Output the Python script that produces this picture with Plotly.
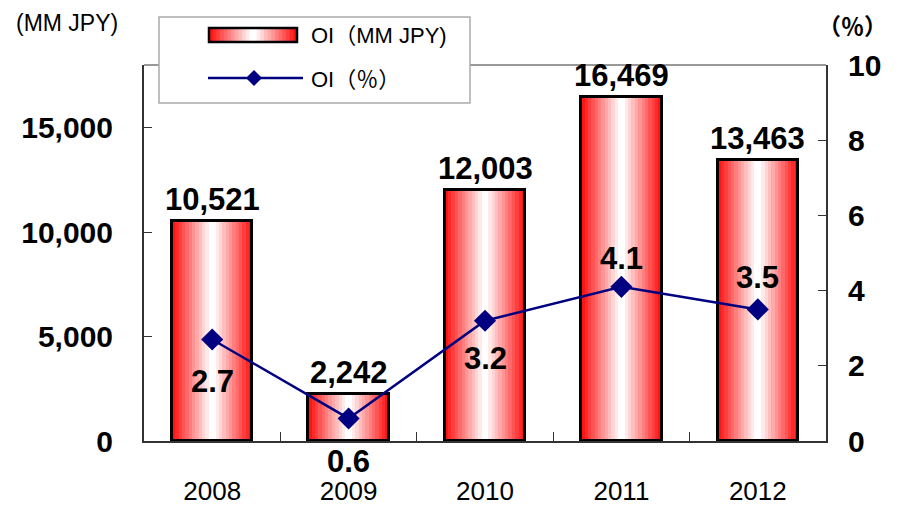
import plotly.graph_objects as go

years = ["2008", "2009", "2010", "2011", "2012"]
oi_mm_jpy = [10521, 2242, 12003, 16469, 13463]
oi_pct = [2.7, 0.6, 3.2, 4.1, 3.5]
pct_label_shift = [-42, -43, -38, 28, 32]  # label offset (px) from the point

W, H = 899, 508
L, R, T, B = 144, 826, 65, 441  # plot area in pixels
PW, PH = R - L, B - T

def px(x):
    return (x - L) / PW

def py(y):
    return (B - y) / PH

N = 12
BAR_W = 0.59
def grad_color(t):
    g0 = 20
    g = int(g0 + (255 - g0) * t)
    return f"rgb(255,{g},{g})"

fig = go.Figure()
for k in range(N):
    t = k / (N - 1)
    fig.add_trace(go.Bar(
        x=years, y=oi_mm_jpy, width=BAR_W * (1 - k / N),
        marker=dict(color=grad_color(t), line=dict(width=0)),
        showlegend=False, hoverinfo="skip"))
fig.add_trace(go.Bar(
    x=years, y=oi_mm_jpy, width=BAR_W,
    marker=dict(color="rgba(0,0,0,0)", line=dict(color="black", width=3)),
    showlegend=False, name="OI（MM JPY)"))

fig.add_trace(go.Scatter(
    x=years, y=oi_pct, yaxis="y2", mode="lines+markers",
    line=dict(color="#000080", width=2.5),
    marker=dict(symbol="diamond", size=17, color="#000080"),
    cliponaxis=False, showlegend=False, name="OI（％）"))

shapes = []
shapes.append(dict(type="line", xref="paper", yref="paper", x0=0, x1=1, y0=1, y1=1,
                   line=dict(color="#999999", width=2), layer="below"))
shapes.append(dict(type="rect", xref="paper", yref="paper",
                   x0=px(159), x1=px(470), y0=py(103), y1=py(17),
                   fillcolor="white", line=dict(color="#aaaaaa", width=1.5), layer="above"))
lx0, lx1, ly0, ly1 = 209, 297, 28, 42
for k in range(N):
    t = k / (N - 1)
    half = (lx1 - lx0) / 2 * (1 - k / N)
    cx = (lx0 + lx1) / 2
    shapes.append(dict(type="rect", xref="paper", yref="paper",
                       x0=px(cx - half), x1=px(cx + half), y0=py(ly1), y1=py(ly0),
                       fillcolor=grad_color(t), line=dict(width=0), layer="above"))
shapes.append(dict(type="rect", xref="paper", yref="paper",
                   x0=px(lx0), x1=px(lx1), y0=py(ly1), y1=py(ly0),
                   fillcolor="rgba(0,0,0,0)", line=dict(color="black", width=2.5), layer="above"))
shapes.append(dict(type="line", xref="paper", yref="paper",
                   x0=px(208), x1=px(303), y0=py(78), y1=py(78),
                   line=dict(color="#000080", width=2.5), layer="above"))
dcx, dcy, dr = 254, 78, 8
shapes.append(dict(type="path", xref="paper", yref="paper",
                   path=f"M{px(dcx)},{py(dcy-dr)} L{px(dcx+dr)},{py(dcy)} L{px(dcx)},{py(dcy+dr)} L{px(dcx-dr)},{py(dcy)} Z",
                   fillcolor="#000080", line=dict(width=0), layer="above"))

cjk = "Liberation Sans, Noto Sans CJK JP"
lab_font = dict(family="Liberation Sans", size=31, color="black", weight="bold")
annotations = [
    dict(text="OI（MM JPY)", xref="paper", yref="paper", x=px(309), y=py(36),
         xanchor="left", yanchor="middle", showarrow=False,
         font=dict(family=cjk, size=22, color="black")),
    dict(text="OI（％）", xref="paper", yref="paper", x=px(309), y=py(79),
         xanchor="left", yanchor="middle", showarrow=False,
         font=dict(family=cjk, size=22, color="black")),
    dict(text="(MM JPY)", xref="paper", yref="paper", x=px(67), y=py(23),
         xanchor="center", yanchor="middle", showarrow=False,
         font=dict(family=cjk, size=23, color="black")),
    dict(text="（％）", xref="paper", yref="paper", x=px(852), y=py(27),
         xanchor="center", yanchor="middle", showarrow=False,
         font=dict(family=cjk, size=23, color="black", weight="bold")),
]
for i, v in enumerate(oi_mm_jpy):
    annotations.append(dict(text=f"{v:,}", x=i, y=v, xref="x", yref="y",
                            yshift=2, showarrow=False, xanchor="center", yanchor="bottom",
                            font=lab_font))
for i, (v, s) in enumerate(zip(oi_pct, pct_label_shift)):
    annotations.append(dict(text=f"{v:.1f}", x=i, y=v, xref="x", yref="y2",
                            yshift=s, showarrow=False, xanchor="center", yanchor="middle",
                            font=lab_font))

fig.update_layout(
    width=W, height=H, margin=dict(l=L, r=W - R, t=T, b=H - B),
    paper_bgcolor="white", plot_bgcolor="white",
    barmode="overlay", bargap=0,
    shapes=shapes, annotations=annotations,
    xaxis=dict(type="category", range=[-0.5, len(years) - 0.5],
               showline=True, linecolor="#333333", linewidth=2,
               ticks="inside", tickson="boundaries", ticklen=9, tickcolor="#333333",
               tickfont=dict(family="Liberation Sans", size=26, color="black"),
               ticklabelstandoff=26, showgrid=False, automargin=False),
    yaxis=dict(range=[0, 18000], tickvals=[0, 5000, 10000, 15000], tickformat=",d",
               showline=True, linecolor="#333333", linewidth=2, ticks="inside",
               ticklen=8, tickcolor="#333333", showgrid=False, zeroline=False,
               tickfont=dict(family="Liberation Sans", size=30, color="black", weight="bold"),
               ticklabelstandoff=23, automargin=False),
    yaxis2=dict(range=[0, 10], dtick=2, overlaying="y", side="right",
                showline=True, linecolor="#333333", linewidth=2, ticks="inside",
                ticklen=8, tickcolor="#333333", showgrid=False, zeroline=False,
                tickfont=dict(family="Liberation Sans", size=30, color="black", weight="bold"),
                ticklabelstandoff=14, automargin=False),
    font=dict(family="Liberation Sans"),
)

fig.write_html("out.html")
